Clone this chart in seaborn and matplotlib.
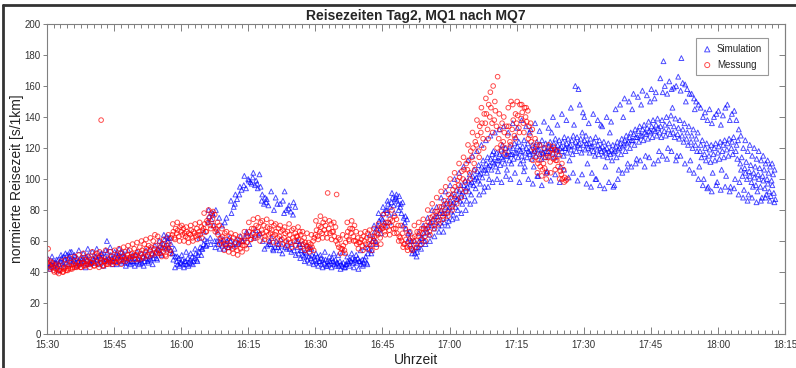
import numpy as np
import pandas as pd
import matplotlib
matplotlib.use("Agg")
import matplotlib.pyplot as plt
import seaborn as sns

# Simulation, 15:30 - 16:58, 4 samples per minute
sim_a = [
    44, 46, 43, 45, 45, 47, 44, 46, 46, 44, 48, 45, 47, 49, 46, 50, 48, 46, 51, 49,
    50, 48, 53, 47, 48, 50, 46, 49, 47, 45, 49, 48, 49, 47, 46, 50, 48, 51, 47, 46,
    46, 49, 48, 50, 50, 48, 46, 51, 49, 52, 48, 47, 50, 48, 53, 49, 48, 51, 49, 47,
    49, 47, 52, 50, 51, 48, 50, 53, 47, 50, 49, 46, 48, 46, 50, 47, 49, 47, 46, 51,
    47, 49, 48, 46, 48, 46, 50, 47, 49, 51, 47, 48, 50, 48, 52, 49, 51, 53, 49, 55,
    54, 57, 52, 56, 58, 61, 57, 63, 60, 56, 62, 58, 52, 48, 55, 50, 47, 45, 49, 46,
    46, 48, 45, 47, 47, 45, 49, 46, 48, 46, 50, 47, 49, 52, 48, 51, 53, 56, 51, 55,
    58, 61, 57, 60, 72, 76, 62, 74, 78, 70, 60, 80, 60, 58, 75, 62, 59, 57, 61, 72,
    58, 60, 56, 62, 60, 78, 58, 82, 84, 61, 87, 59, 90, 63, 93, 60, 96, 62, 94, 65,
    100, 58, 98, 97, 101, 62, 96, 99, 97, 64, 103, 95, 86, 60, 84, 88, 85, 57, 83, 60,
    58, 62, 55, 80, 56, 60, 84, 58, 54, 61, 57, 86, 78, 56, 80, 59, 81, 55, 79, 58,
    77, 54, 82, 60, 56, 52, 58, 54, 54, 51, 50, 53, 52, 48, 50, 55, 49, 51, 47, 50,
    48, 46, 50, 47, 47, 49, 45, 48, 46, 48, 44, 47, 45, 47, 46, 49, 47, 45, 48, 46,
    46, 44, 47, 45, 44, 46, 43, 45, 45, 47, 46, 48, 47, 49, 46, 48, 48, 46, 49, 47,
    47, 45, 48, 46, 48, 50, 46, 52, 55, 58, 52, 60, 62, 66, 60, 68, 70, 73, 68, 75,
    74, 78, 72, 80, 80, 84, 77, 82, 85, 88, 83, 87, 88, 86, 84, 89, 82, 78, 85, 75,
    72, 68, 74, 65, 62, 58, 60, 55, 54, 52, 56, 53, 56, 60, 58, 62, 62, 65, 60, 68,
    66, 70, 64, 72, 70, 74, 68, 76, 72, 76, 70, 78,
]

# Simulation, 16:58 - 18:13, 6 samples per minute
sim_b = [
    74, 80, 70, 78, 84, 72, 78, 82, 75, 86, 80, 73, 82, 86, 79, 90, 84, 77,
    85, 89, 82, 93, 87, 80, 88, 92, 86, 96, 90, 84, 92, 96, 89, 99, 94, 86,
    95, 99, 92, 103, 97, 90, 98, 102, 96, 106, 100, 94, 101, 105, 99, 109, 103, 97,
    104, 108, 101, 112, 106, 95, 106, 110, 104, 114, 108, 100, 109, 113, 106, 116, 111, 118,
    110, 114, 108, 117, 112, 105, 112, 116, 109, 119, 114, 122, 113, 117, 110, 120, 115, 106,
    115, 118, 112, 121, 116, 110, 116, 120, 113, 123, 117, 127, 117, 121, 114, 124, 119, 110,
    118, 115, 121, 112, 125, 108, 117, 120, 114, 123, 118, 130, 116, 119, 113, 122, 117, 108,
    118, 121, 115, 124, 119, 102, 119, 116, 122, 113, 125, 117, 117, 120, 114, 123, 118, 105,
    118, 121, 115, 124, 120, 130, 120, 117, 123, 114, 126, 119, 119, 122, 116, 125, 120, 108,
    121, 118, 124, 115, 127, 120, 120, 123, 117, 126, 121, 112, 122, 119, 125, 116, 128, 135,
    121, 124, 118, 127, 122, 158, 123, 120, 126, 117, 130, 143, 122, 125, 119, 128, 123, 110,
    120, 123, 117, 126, 121, 104, 121, 118, 124, 115, 127, 100, 119, 122, 116, 125, 120, 135,
    118, 121, 115, 124, 119, 108, 117, 120, 114, 123, 118, 130, 116, 119, 112, 122, 117, 96,
    118, 121, 114, 124, 119, 106, 120, 123, 116, 126, 121, 140, 122, 125, 118, 128, 123, 110,
    124, 127, 120, 130, 125, 145, 125, 129, 122, 132, 127, 113, 127, 131, 124, 134, 128, 148,
    128, 132, 125, 135, 130, 115, 129, 133, 126, 137, 131, 150, 130, 134, 127, 138, 132, 152,
    131, 135, 128, 139, 133, 118, 130, 134, 127, 138, 156, 176, 131, 135, 128, 140, 155, 120,
    132, 136, 129, 141, 158, 146, 130, 134, 127, 139, 160, 115, 129, 133, 126, 138, 157, 178,
    128, 132, 124, 136, 161, 150, 126, 130, 122, 134, 155, 112, 124, 128, 120, 132, 152, 145,
    122, 126, 118, 130, 148, 108, 118, 122, 114, 125, 140, 100, 116, 120, 112, 123, 138, 95,
    115, 119, 111, 122, 136, 104, 116, 120, 112, 123, 142, 98, 117, 121, 113, 124, 135, 106,
    118, 122, 114, 125, 146, 102, 119, 123, 115, 126, 138, 95, 120, 124, 116, 127, 144, 100,
    118, 122, 113, 125, 132, 98, 110, 106, 114, 102, 120, 93, 107, 104, 111, 100, 118, 90,
    105, 102, 109, 98, 115, 95, 104, 101, 108, 96, 113, 92, 103, 100, 107, 95, 112, 88,
    102, 99, 106, 94, 110, 90, 100, 97, 104, 92, 108, 89, 99, 96, 103, 91, 106, 87,
]

# Simulation, scattered points above / below the band, one pair per minute 15:30 - 18:13
sim_c = [
    49, 42, 50, 43, 48, 41, 51, 44, 52, 45, 53, 45, 51, 44, 54, 46, 52, 43, 55, 45,
    53, 46, 55, 45, 52, 44, 54, 47, 56, 45, 53, 45, 55, 46, 52, 44, 54, 45, 51, 44,
    53, 45, 52, 44, 54, 46, 55, 45, 57, 48, 60, 51, 64, 55, 62, 54, 52, 43, 50, 44,
    51, 43, 53, 44, 52, 45, 55, 47, 62, 55, 66, 57, 80, 58, 77, 56, 66, 55, 70, 55,
    75, 56, 86, 57, 90, 58, 95, 60, 102, 66, 99, 64, 104, 67, 94, 65, 90, 55, 87, 58,
    92, 54, 88, 56, 84, 52, 92, 55, 83, 53, 85, 51, 60, 49, 58, 47, 57, 46, 55, 45,
    52, 44, 51, 43, 53, 44, 50, 43, 52, 44, 51, 42, 53, 43, 50, 44, 52, 43, 51, 42,
    54, 44, 56, 45, 64, 54, 70, 58, 78, 65, 82, 70, 86, 72, 91, 78, 90, 80, 84, 70,
    76, 60, 66, 52, 60, 50, 65, 55, 70, 58, 75, 60, 80, 63, 82, 66,
    88, 66, 92, 70, 96, 74, 100, 75, 104, 78, 108, 80, 112, 84, 115, 86, 118, 90, 122, 92,
    125, 95, 128, 98, 130, 100, 132, 98, 134, 102, 130, 100, 136, 104, 133, 98, 138, 105, 134, 100,
    132, 97, 136, 102, 131, 96, 137, 104, 133, 99, 140, 103, 135, 98, 142, 106, 138, 101, 146, 104,
    160, 99, 148, 103, 140, 97, 136, 95, 142, 100, 138, 96, 134, 94, 140, 98, 137, 95, 145, 100,
    148, 104, 152, 106, 150, 108, 155, 110, 153, 112, 157, 108, 154, 114, 158, 110, 156, 112, 165, 115,
    160, 113, 163, 118, 159, 112, 166, 115, 162, 110, 158, 106, 155, 104, 150, 100, 146, 96, 143, 94,
    145, 92, 140, 96, 144, 93, 141, 95, 148, 92, 142, 94, 138, 90, 128, 88, 125, 86, 122, 88,
    120, 85, 118, 86, 115, 88, 112, 86, 110, 85,
]

# Messung, 15:30 - 17:26, 4 samples per minute
mess = [
    46, 55, 44, 47, 43, 45, 41, 44, 42, 40, 44, 41, 41, 43, 40, 42, 43, 41, 45, 42,
    44, 42, 46, 43, 45, 43, 47, 44, 44, 46, 43, 48, 46, 44, 48, 45, 47, 45, 49, 46,
    46, 48, 44, 51, 47, 45, 49, 53, 46, 48, 44, 47, 47, 45, 49, 46, 48, 46, 50, 47,
    47, 49, 46, 51, 49, 47, 52, 48, 50, 48, 53, 49, 51, 49, 54, 50, 52, 50, 55, 51,
    51, 53, 49, 56, 52, 54, 50, 58, 53, 55, 51, 57, 54, 56, 52, 60, 55, 57, 53, 63,
    54, 52, 56, 58, 53, 55, 51, 57, 55, 58, 54, 62, 64, 66, 62, 68, 65, 67, 63, 69,
    66, 64, 68, 65, 63, 66, 62, 65, 64, 67, 62, 66, 65, 63, 68, 64, 66, 64, 69, 67,
    68, 71, 66, 73, 72, 75, 70, 78, 74, 70, 77, 68, 67, 64, 70, 62, 60, 63, 58, 65,
    58, 61, 56, 63, 57, 60, 55, 62, 56, 59, 54, 61, 58, 55, 60, 57, 60, 57, 63, 59,
    63, 66, 61, 68, 65, 68, 63, 70, 66, 69, 64, 72, 67, 65, 70, 63, 66, 69, 64, 68,
    65, 67, 63, 70, 64, 66, 62, 68, 63, 66, 61, 67, 62, 65, 60, 66, 61, 64, 59, 67,
    62, 60, 65, 63, 63, 61, 66, 64, 60, 58, 62, 59, 57, 55, 59, 56, 58, 56, 60, 62,
    64, 67, 63, 70, 66, 69, 65, 72, 67, 70, 65, 91, 68, 65, 71, 66, 66, 63, 69, 90,
    58, 56, 61, 55, 55, 57, 54, 59, 63, 66, 61, 68, 65, 68, 63, 70, 60, 58, 62, 59,
    59, 61, 57, 63, 60, 58, 62, 65, 58, 61, 57, 63, 60, 63, 59, 65, 64, 67, 62, 69,
    68, 70, 66, 72, 69, 72, 67, 74, 70, 73, 68, 76, 68, 65, 70, 63, 62, 60, 65, 58,
    58, 61, 56, 64, 57, 60, 55, 62, 60, 63, 58, 66, 63, 66, 61, 68, 65, 68, 63, 70,
    68, 72, 66, 75, 72, 76, 70, 79, 75, 79, 73, 82, 78, 82, 76, 86, 80, 84, 78, 90,
    84, 88, 82, 93, 90, 95, 87, 99, 96, 101, 93, 105, 100, 106, 98, 110, 106, 112, 104, 118,
    114, 120, 110, 124, 122, 128, 118, 134, 130, 136, 126, 142, 136, 142, 132, 148, 140, 146, 136, 160,
    138, 144, 134, 166, 126, 132, 122, 136, 124, 130, 120, 134, 128, 134, 124, 150, 132, 138, 128, 142,
    136, 141, 133, 148, 139, 143, 136, 146, 140, 137, 144, 134, 128, 124, 132, 120, 118, 114, 122, 110,
    112, 108, 116, 106, 110, 107, 114, 104, 114, 117, 111, 119, 116, 113, 119, 112, 112, 108, 115, 105,
    103, 100, 106, 101, 99, 100,
]

# Messung, scattered points above / below the band, one pair per minute 15:30 - 17:26
mess_c = [
    48, 42, 46, 40, 45, 39, 47, 40, 48, 41, 49, 42, 50, 43, 51, 43, 52, 44, 50, 43,
    53, 44, 52, 43, 50, 44, 54, 45, 53, 45, 54, 46, 55, 45, 56, 47, 57, 48, 58, 48,
    59, 48, 60, 49, 61, 50, 62, 51, 64, 52, 60, 50, 61, 50, 64, 52,
    71, 61, 72, 60, 70, 60, 69, 59, 70, 60, 71, 61, 72, 62, 78, 66, 80, 68, 79, 66,
    72, 58, 68, 54, 66, 53, 65, 52, 64, 51, 63, 53, 66, 55,
    72, 61, 74, 62, 75, 60, 73, 61, 74, 60, 72, 59, 71, 58,
    70, 58, 69, 57, 71, 56, 68, 57, 69, 56, 66, 54,
    65, 53, 64, 54, 73, 61, 76, 62, 74, 62, 73, 61, 72, 60, 62, 52, 64, 52, 72, 60,
    73, 60, 66, 55, 65, 54, 66, 55, 67, 54, 68, 56, 71, 58,
    77, 64, 78, 64, 80, 65, 74, 60, 70, 56, 68, 54, 66, 54, 70, 56, 72, 58, 74, 60,
    80, 64, 84, 68, 88, 71, 92, 74, 95, 76, 100, 80, 104, 84, 110, 88, 114, 92, 122, 100,
    130, 106, 138, 114, 146, 120, 152, 126, 156, 130, 150, 120, 142, 118, 140, 116, 146, 122, 148, 126,
    150, 130, 148, 130, 146, 126, 136, 112, 126, 104, 122, 102, 120, 100, 122, 104, 121, 106, 118, 100,
    110, 98,
]

# single stray points (minutes after 15:30, value)
sim_extra_t = [13.4]
sim_extra_v = [60]
mess_extra_t = [12.1]
mess_extra_v = [138]

tick_labels = ["15:30", "15:45", "16:00", "16:15", "16:30", "16:45",
               "17:00", "17:15", "17:30", "17:45", "18:00", "18:15"]

sim_t = np.concatenate([np.arange(len(sim_a)) * 0.25,
                        88 + np.arange(len(sim_b)) / 6.0,
                        0.125 + np.arange(len(sim_c)) * 0.5,
                        sim_extra_t])
sim_v = np.concatenate([sim_a, sim_b, sim_c, sim_extra_v])
mess_t = np.concatenate([np.arange(len(mess)) * 0.25,
                         0.125 + np.arange(len(mess_c)) * 0.5,
                         mess_extra_t])
mess_v = np.concatenate([mess, mess_c, mess_extra_v])

df_sim = pd.DataFrame({"t": sim_t, "v": sim_v})
df_mess = pd.DataFrame({"t": mess_t, "v": mess_v})

sns.set_style("white")
plt.rcParams["font.family"] = ["Liberation Sans", "DejaVu Sans"]

fig = plt.figure(figsize=(7.96, 3.68), dpi=100)
ax = fig.add_axes([47 / 796, 34 / 368, 738 / 796, 310 / 368])

sns.scatterplot(data=df_sim, x="t", y="v", marker="^", s=12,
                facecolor="none", edgecolor="#0000ff", linewidth=0.7,
                alpha=0.7, label="Simulation", ax=ax)
sns.scatterplot(data=df_mess, x="t", y="v", marker="o", s=11,
                facecolor="none", edgecolor="#ff0000", linewidth=0.7,
                alpha=0.7, label="Messung", ax=ax)

ax.set_xlim(0, 165)
ax.set_ylim(0, 200)
ax.set_xticks(np.arange(0, 166, 15))
ax.set_xticklabels(tick_labels)
ax.set_xticks(np.arange(0, 166, 1.5), minor=True)
ax.set_yticks(np.arange(0, 201, 20))

for s in ax.spines.values():
    s.set_color("#808080")
    s.set_linewidth(0.8)

ax.tick_params(axis="x", which="both", direction="in", top=True, bottom=True,
               colors="#808080", labelcolor="#333333", labelsize=7, pad=4)
ax.tick_params(axis="x", which="major", length=5, width=0.7)
ax.tick_params(axis="x", which="minor", length=3, width=0.7)
ax.tick_params(axis="y", which="major", direction="out", left=True, length=3,
               width=0.7, colors="#808080", labelcolor="#333333", labelsize=7, pad=1.5)
ax2 = ax.secondary_yaxis("right")
ax2.set_yticks(np.arange(0, 201, 20))
ax2.tick_params(axis="y", direction="in", length=4, width=0.7, colors="#808080",
                labelright=False)
ax2.spines["right"].set_color("#808080")

ax.set_xlabel("Uhrzeit", fontsize=10, color="#222222")
ax.set_ylabel("normierte Reisezeit [s/1km]", fontsize=10, color="#222222")
ax.xaxis.set_label_coords(0.5, -0.062)
ax.yaxis.set_label_coords(-0.031, 0.5)
ax.set_title("Reisezeiten Tag2, MQ1 nach MQ7", fontsize=10, fontweight="bold", pad=3)

leg = ax.legend(loc="upper right", bbox_to_anchor=(0.977, 0.955), borderaxespad=0,
                fontsize=7, frameon=True, fancybox=False, handletextpad=0.4,
                handlelength=1.2, borderpad=0.6, labelspacing=0.6, markerscale=1.1)
leg.get_frame().set_edgecolor("#808080")
leg.get_frame().set_linewidth(0.8)

# frame line on left and top of the figure
fig.add_artist(plt.Line2D([3 / 796, 3 / 796], [0, 363 / 368], color="#333333",
                          linewidth=2, transform=fig.transFigure))
fig.add_artist(plt.Line2D([3 / 796, 1], [363 / 368, 363 / 368], color="#333333",
                          linewidth=2, transform=fig.transFigure))

fig.savefig("out.png", dpi=100)
